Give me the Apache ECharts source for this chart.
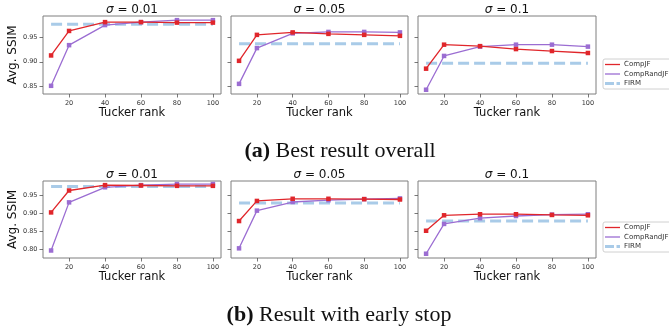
<!DOCTYPE html>
<html><head><meta charset="utf-8">
<script src="https://cdn.jsdelivr.net/npm/echarts@6/dist/echarts.min.js"></script>
<style>html,body{margin:0;padding:0;background:#fff}#c{width:669px;height:331px}</style>
</head><body><div id="c"></div>
<script>
// ---- data ----
const ranks = [10, 20, 40, 60, 80, 100];
const xTicks = [20, 40, 60, 80, 100];
const sigmaLabels = ['0.01', '0.05', '0.1'];
const seriesNames = ['CompJF', 'CompRandJF', 'FIRM'];
const yTicksBest = [0.85, 0.90, 0.95];
const yTicksEarly = [0.80, 0.85, 0.90, 0.95];

// (a) Best result overall — one array per sigma
const bestCompJF = [
  [0.913, 0.963, 0.981, 0.981, 0.980, 0.980],
  [0.902, 0.955, 0.960, 0.957, 0.955, 0.953],
  [0.886, 0.935, 0.932, 0.926, 0.922, 0.918]
];
const bestCompRandJF = [
  [0.851, 0.934, 0.975, 0.981, 0.985, 0.985],
  [0.855, 0.928, 0.958, 0.961, 0.961, 0.960],
  [0.843, 0.912, 0.931, 0.935, 0.935, 0.931]
];
const bestFIRM = [0.9765, 0.937, 0.897];

// (b) Result with early stop
const earlyCompJF = [
  [0.902, 0.963, 0.978, 0.977, 0.976, 0.976],
  [0.878, 0.934, 0.940, 0.940, 0.939, 0.938],
  [0.851, 0.894, 0.897, 0.897, 0.895, 0.894]
];
const earlyCompRandJF = [
  [0.796, 0.930, 0.972, 0.978, 0.981, 0.981],
  [0.802, 0.907, 0.931, 0.936, 0.939, 0.941],
  [0.787, 0.870, 0.886, 0.892, 0.896, 0.897]
];
const earlyFIRM = [0.974, 0.928, 0.878];

const captionA = ['(a)', 'Best result overall'];
const captionB = ['(b)', 'Result with early stop'];

// ---- styling / layout ----
const RED = '#e0262b', PURPLE = '#9b6dd2', BLUE = '#a9cbe8', FRAME = '#7f7f7f';
const colLeft = [43, 231, 418], colWidth = [178, 177, 178];
const rows = [
  {top: 16, height: 78, ymin: 0.8343, ymax: 0.9935, ticks: yTicksBest, jf: bestCompJF, rj: bestCompRandJF, firm: bestFIRM},
  {top: 181, height: 77, ymin: 0.7751, ymax: 0.9895, ticks: yTicksEarly, jf: earlyCompJF, rj: earlyCompRandJF, firm: earlyFIRM}
];

const grid = [], xAxis = [], yAxis = [], series = [], title = [];
rows.forEach((r, ri) => {
  for (let c = 0; c < 3; c++) {
    const idx = ri * 3 + c;
    grid.push({left: colLeft[c], top: r.top, width: colWidth[c], height: r.height,
      show: true, borderColor: FRAME, borderWidth: 1, backgroundColor: 'transparent'});
    xAxis.push({type: 'value', gridIndex: idx, min: 5.5, max: 104.5,
      axisLine: {show: false}, splitLine: {show: false},
      axisTick: {show: true, length: 3.5, customValues: xTicks, lineStyle: {color: '#555', width: 0.8}},
      axisLabel: {fontSize: 6.5, color: '#333', margin: 5.5, customValues: xTicks, fontFamily: 'DejaVu Sans'},
      name: 'Tucker rank', nameLocation: 'middle', nameGap: 11,
      nameTextStyle: {fontSize: 11.5, color: '#111', fontFamily: 'DejaVu Sans'}});
    yAxis.push({type: 'value', gridIndex: idx, min: r.ymin, max: r.ymax,
      axisLine: {show: false}, splitLine: {show: false},
      axisTick: {show: true, length: 3.5, customValues: r.ticks, lineStyle: {color: '#555', width: 0.8}},
      axisLabel: {show: c === 0, fontSize: 6.5, color: '#333', margin: 5.5, customValues: r.ticks,
        fontFamily: 'DejaVu Sans', formatter: v => v.toFixed(2)},
      name: c === 0 ? 'Avg. SSIM' : '', nameLocation: 'middle', nameGap: 24,
      nameTextStyle: {fontSize: 12, color: '#111', fontFamily: 'DejaVu Sans'}});
    title.push({text: '{i|σ} = ' + sigmaLabels[c], left: colLeft[c] + colWidth[c] / 2, top: r.top - 12,
      textAlign: 'center', padding: 0,
      textStyle: {fontSize: 12, fontWeight: 'normal', color: '#111', fontFamily: 'DejaVu Sans',
        rich: {i: {fontStyle: 'italic', fontSize: 12, fontFamily: 'DejaVu Sans', color: '#111'}}}});
    series.push({name: 'FIRM', type: 'line', xAxisIndex: idx, yAxisIndex: idx,
      data: ranks.map(x => [x, r.firm[c]]), symbol: 'none',
      lineStyle: {color: BLUE, width: 3, type: [11, 5]}, itemStyle: {color: BLUE}, z: 2});
    series.push({name: 'CompRandJF', type: 'line', xAxisIndex: idx, yAxisIndex: idx,
      data: ranks.map((x, i) => [x, r.rj[c][i]]), symbol: 'rect', symbolSize: 4.5,
      lineStyle: {color: PURPLE, width: 1.3}, itemStyle: {color: PURPLE}, z: 3});
    series.push({name: 'CompJF', type: 'line', xAxisIndex: idx, yAxisIndex: idx,
      data: ranks.map((x, i) => [x, r.jf[c][i]]), symbol: 'rect', symbolSize: 4.5,
      lineStyle: {color: RED, width: 1.3}, itemStyle: {color: RED}, z: 4});
  }
});

function legendAt(top) {
  return {orient: 'vertical', left: 603, top: top, itemWidth: 15, itemHeight: 8, itemGap: 2.5,
    padding: [2, 6, 2, 2], borderColor: '#d0d0d0', borderWidth: 1, borderRadius: 2,
    backgroundColor: '#fff', selectedMode: false, symbolKeepAspect: true,
    textStyle: {fontSize: 7, color: '#333', fontFamily: 'DejaVu Sans', padding: [0, 0, 0, -1]},
    data: [
      {name: seriesNames[0], icon: 'path://M0,0h15v1.3h-15z', itemStyle: {color: RED, borderWidth: 0}},
      {name: seriesNames[1], icon: 'path://M0,0h15v1.3h-15z', itemStyle: {color: PURPLE, borderWidth: 0}},
      {name: seriesNames[2], icon: 'path://M0,0h9v3h-9zM11.5,0h3.5v3h-3.5z', itemStyle: {color: BLUE, borderWidth: 0}}
    ]};
}

function caption(parts, x, y) {
  return {type: 'text', x: x, y: y,
    style: {text: '{b|' + parts[0] + '} ' + parts[1], fontSize: 22, fontFamily: 'Liberation Serif', fill: '#111',
      align: 'center', verticalAlign: 'middle',
      rich: {b: {fontWeight: 'bold', fontSize: 22, fontFamily: 'Liberation Serif', fill: '#111'}}}};
}

const chart = echarts.init(document.getElementById('c'), null, {renderer: 'canvas'});
chart.setOption({
  animation: false,
  backgroundColor: '#fff',
  title: title,
  grid: grid, xAxis: xAxis, yAxis: yAxis, series: series,
  legend: [legendAt(59), legendAt(222)],
  graphic: [caption(captionA, 340, 151), caption(captionB, 339, 315)]
});
</script></body></html>
